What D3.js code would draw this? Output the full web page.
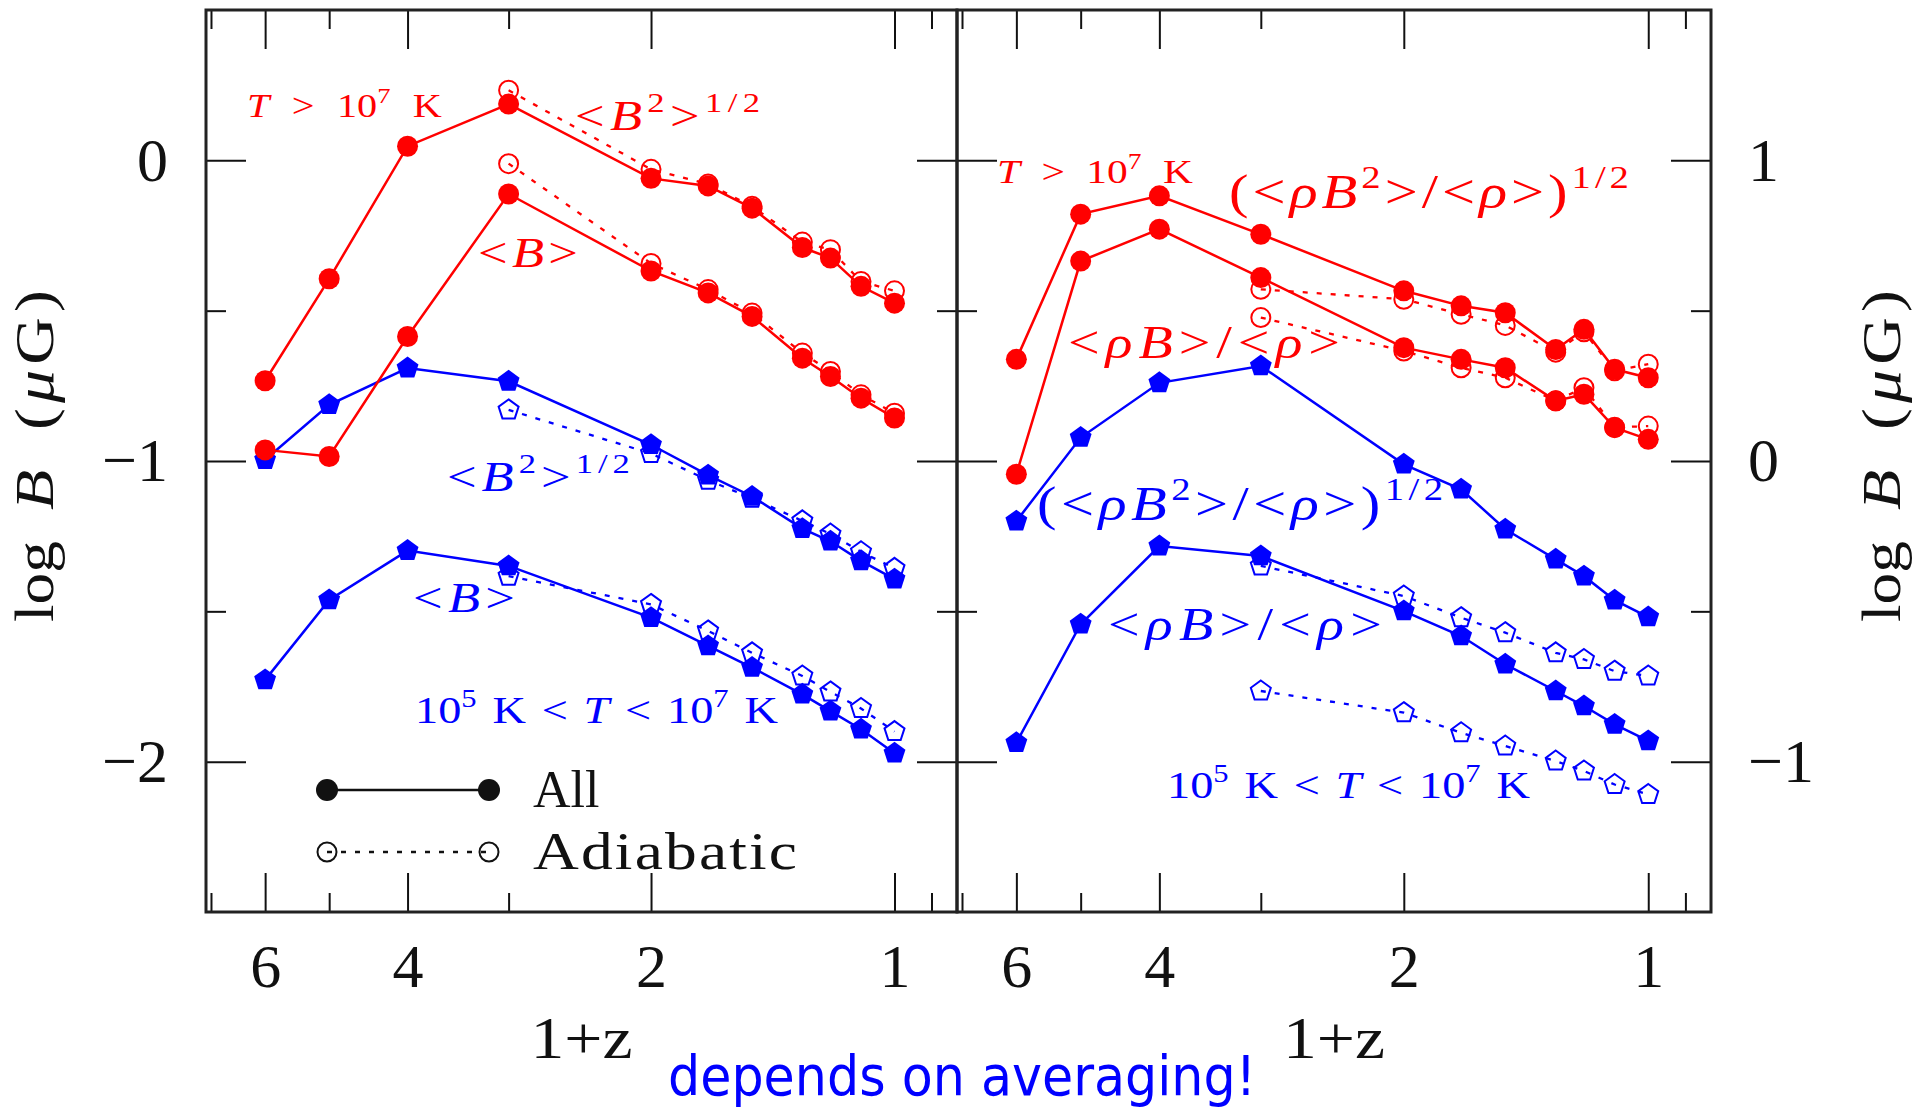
<!DOCTYPE html>
<html>
<head>
<meta charset="utf-8">
<title>log B against 1+z</title>
<script src="https://cdn.jsdelivr.net/npm/d3@7"></script>
<style>
  body { margin: 0; background: white; }
  svg { display: block; font-family: "Liberation Serif", "DejaVu Serif", serif; }
</style>
</head>
<body>
<svg id="chart" width="1920" height="1109"></svg>
<script>
// 1+z of every output; the adiabatic runs only start at 1+z = 3
const onePlusZ    = [6, 5, 4, 3, 2, 1.7, 1.5, 1.3, 1.2, 1.1, 1.0];
const onePlusZAdi = [3, 2, 1.7, 1.5, 1.3, 1.2, 1.1, 1.0];

// left panel: plain volume averages (log B in muG)
const hotB2All  = [-0.733, -0.394, 0.047, 0.187, -0.060, -0.085, -0.159, -0.290, -0.325, -0.419, -0.475];
const hotB2Adi  = [0.233, -0.030, -0.079, -0.153, -0.272, -0.297, -0.403, -0.434];
const hotBAll   = [-0.963, -0.985, -0.586, -0.112, -0.368, -0.441, -0.519, -0.658, -0.719, -0.791, -0.857];
const hotBAdi   = [-0.011, -0.343, -0.430, -0.508, -0.641, -0.702, -0.780, -0.841];
const warmB2All = [-0.996, -0.813, -0.691, -0.735, -0.946, -1.047, -1.118, -1.225, -1.267, -1.332, -1.393];
const warmB2Adi = [-0.830, -0.975, -1.064, -1.124, -1.199, -1.243, -1.302, -1.357];
const warmBAll  = [-1.728, -1.462, -1.298, -1.349, -1.521, -1.615, -1.687, -1.776, -1.832, -1.892, -1.972];
const warmBAdi  = [-1.383, -1.477, -1.565, -1.638, -1.715, -1.768, -1.823, -1.900];

// right panel: density weighted averages
const hotRB2All  = [0.338, 0.821, 0.882, 0.754, 0.566, 0.516, 0.493, 0.371, 0.438, 0.305, 0.277];
const hotRB2Adi  = [0.571, 0.538, 0.488, 0.451, 0.362, 0.430, 0.300, 0.322];
const hotRBAll   = [-0.044, 0.665, 0.771, 0.610, 0.377, 0.338, 0.310, 0.200, 0.222, 0.111, 0.072];
const hotRBAdi   = [0.477, 0.366, 0.310, 0.277, 0.200, 0.244, 0.112, 0.116];
const warmRB2All = [-0.200, 0.078, 0.260, 0.316, -0.011, -0.094, -0.227, -0.327, -0.383, -0.463, -0.519];
const warmRB2Adi = [-0.349, -0.449, -0.521, -0.571, -0.638, -0.660, -0.699, -0.715];
const warmRBAll  = [-0.937, -0.543, -0.283, -0.316, -0.499, -0.582, -0.676, -0.765, -0.815, -0.876, -0.931];
const warmRBAdi  = [-0.765, -0.837, -0.904, -0.948, -0.998, -1.031, -1.076, -1.109];

// tick values
const xMajor = [6, 4, 2, 1];
const xMinor = [7, 5, 3, 0.9];
const yMajorL = [-2, -1, 0], yMinorL = [-1.5, -0.5];
const yMajorR = [-1, 0, 1],  yMinorR = [-0.5, 0.5];

const legendNames = ["All", "Adiabatic"];

const RED = "#ff0000", BLUE = "#0000ff";
const svg = d3.select("#chart");
svg.append("rect").attr("width", 1920).attr("height", 1109).attr("fill", "white");

const yTop = 10, yBottom = 912;
const xDom = [7.1, 0.837];

// text with italic / superscript runs. The plot used a wide TeX-like face,
// so glyphs get widened a bit and the rest of the gap goes into the spaces.
const R = t => ({t}), I = t => ({t, i: true}), S = t => ({t, s: true});
function mathLabel(parent, parts, x, y, fs, color, width, anchor) {
  const t = parent.append("text").attr("x", x).attr("y", y)
    .attr("font-size", fs).attr("fill", color).style("white-space", "pre");
  if (anchor) t.attr("text-anchor", anchor);
  let up = false;
  parts.forEach(p => {
    const ts = t.append("tspan").text(p.t);
    if (p.i) ts.attr("font-style", "italic");
    if (p.s) ts.attr("font-size", 0.66 * fs);
    if (p.s && !up) { ts.attr("dy", -0.42 * fs); up = true; }
    else if (!p.s && up) { ts.attr("dy", 0.42 * fs); up = false; }
  });
  if (!width) return t;
  const str = parts.map(p => p.t).join("");
  const w = t.node().getComputedTextLength();
  if (width <= w) return t;
  const sx = Math.min(width / w, 1.22);
  const rest = (width - w * sx) / sx;
  const nSpace = (str.match(/ /g) || []).length;
  if (rest > 0.5) {
    if (nSpace) t.attr("word-spacing", rest / nSpace);
    else if (str.length > 1) t.attr("letter-spacing", rest / (str.length - 1));
  }
  t.attr("transform", `translate(${x},0) scale(${sx},1) translate(${-x},0)`);
  return t;
}

const pentagon = r => d3.line().curve(d3.curveLinearClosed)(
  d3.range(5).map(k => {
    const a = -Math.PI / 2 + k * 2 * Math.PI / 5;
    return [r * Math.cos(a), r * Math.sin(a)];
  }));

const panels = [
  {
    x0: 206, x1: 957, yDom: [-2.5, 0.5], yMajor: yMajorL, yMinor: yMinorL, side: "left",
    series: [
      {all: warmB2All, adi: warmB2Adi, color: BLUE, sym: "pent"},
      {all: warmBAll,  adi: warmBAdi,  color: BLUE, sym: "pent"},
      {all: hotB2All,  adi: hotB2Adi,  color: RED,  sym: "circ"},
      {all: hotBAll,   adi: hotBAdi,   color: RED,  sym: "circ"}
    ],
    labels: [
      {parts: [I("T"), R(" > 10"), S("7"), R(" K")], x: 247, y: 117, fs: 33, w: 195, c: RED},
      {parts: [R("<"), I("B"), S("2"), R(">"), S("1/2")], x: 575, y: 130, fs: 43, w: 185, c: RED},
      {parts: [R("<"), I("B"), R(">")], x: 478, y: 267, fs: 43, w: 100, c: RED},
      {parts: [R("<"), I("B"), S("2"), R(">"), S("1/2")], x: 447, y: 491, fs: 43, w: 183, c: BLUE},
      {parts: [R("<"), I("B"), R(">")], x: 413, y: 612, fs: 43, w: 102, c: BLUE},
      {parts: [R("10"), S("5"), R(" K < "), I("T"), R(" < 10"), S("7"), R(" K")], x: 415, y: 723, fs: 38, w: 363, c: BLUE}
    ]
  },
  {
    x0: 957, x1: 1711, yDom: [-1.5, 1.5], yMajor: yMajorR, yMinor: yMinorR, side: "right",
    series: [
      {all: warmRB2All, adi: warmRB2Adi, color: BLUE, sym: "pent"},
      {all: warmRBAll,  adi: warmRBAdi,  color: BLUE, sym: "pent"},
      {all: hotRB2All,  adi: hotRB2Adi,  color: RED,  sym: "circ"},
      {all: hotRBAll,   adi: hotRBAdi,   color: RED,  sym: "circ"}
    ],
    labels: [
      {parts: [I("T"), R(" > 10"), S("7"), R(" K")], x: 997, y: 183, fs: 34, w: 196, c: RED},
      {parts: [R("(<"), I("ρB"), S("2"), R(">/<"), I("ρ"), R(">)"), S("1/2")], x: 1229, y: 208, fs: 48, w: 400, c: RED},
      {parts: [R("<"), I("ρB"), R(">/<"), I("ρ"), R(">")], x: 1068, y: 358, fs: 46, w: 272, c: RED},
      {parts: [R("(<"), I("ρB"), S("2"), R(">/<"), I("ρ"), R(">)"), S("1/2")], x: 1037, y: 520, fs: 48, w: 406, c: BLUE},
      {parts: [R("<"), I("ρB"), R(">/<"), I("ρ"), R(">")], x: 1108, y: 640, fs: 46, w: 274, c: BLUE},
      {parts: [R("10"), S("5"), R(" K < "), I("T"), R(" < 10"), S("7"), R(" K")], x: 1167, y: 798, fs: 38, w: 363, c: BLUE}
    ]
  }
];

function styleAxis(sel) {
  sel.select(".domain").remove();
  sel.selectAll(".tick line").attr("stroke", "#111").attr("stroke-width", 2);
  sel.selectAll(".tick text").attr("font-size", 62).attr("fill", "#111")
    .attr("font-family", "Liberation Serif, DejaVu Serif, serif");
}

panels.forEach(p => {
  const x = d3.scaleLog().domain(xDom).range([p.x0, p.x1]);
  const y = d3.scaleLinear().domain(p.yDom).range([yBottom, yTop]);
  const g = svg.append("g");

  // ticks on all four sides, pointing inwards
  g.append("g").attr("transform", `translate(0,${yBottom})`)
    .call(d3.axisBottom(x).tickValues(xMajor).tickSize(-39).tickPadding(31).tickFormat(d3.format("d"))).call(styleAxis);
  g.append("g").attr("transform", `translate(0,${yBottom})`)
    .call(d3.axisBottom(x).tickValues(xMinor).tickSize(-19).tickFormat("")).call(styleAxis);
  g.append("g").attr("transform", `translate(0,${yTop})`)
    .call(d3.axisTop(x).tickValues(xMajor).tickSize(-39).tickFormat("")).call(styleAxis);
  g.append("g").attr("transform", `translate(0,${yTop})`)
    .call(d3.axisTop(x).tickValues(xMinor).tickSize(-19).tickFormat("")).call(styleAxis);

  const leftFmt = p.side === "left" ? d3.format("d") : "";
  const rightFmt = p.side === "right" ? d3.format("d") : "";
  g.append("g").attr("transform", `translate(${p.x0},0)`)
    .call(d3.axisLeft(y).tickValues(p.yMajor).tickSize(-40).tickPadding(38).tickFormat(leftFmt)).call(styleAxis);
  g.append("g").attr("transform", `translate(${p.x0},0)`)
    .call(d3.axisLeft(y).tickValues(p.yMinor).tickSize(-20).tickFormat("")).call(styleAxis);
  g.append("g").attr("transform", `translate(${p.x1},0)`)
    .call(d3.axisRight(y).tickValues(p.yMajor).tickSize(-40).tickPadding(37).tickFormat(rightFmt)).call(styleAxis);
  g.append("g").attr("transform", `translate(${p.x1},0)`)
    .call(d3.axisRight(y).tickValues(p.yMinor).tickSize(-20).tickFormat("")).call(styleAxis);

  g.append("rect").attr("x", p.x0).attr("y", yTop).attr("width", p.x1 - p.x0).attr("height", yBottom - yTop)
    .attr("fill", "none").attr("stroke", "#222").attr("stroke-width", 3);

  const line = d3.line().x(d => x(d[0])).y(d => y(d[1]));

  p.series.forEach(s => {
    const allPts = d3.zip(onePlusZ, s.all);
    const adiPts = d3.zip(onePlusZAdi, s.adi);

    g.append("path").attr("d", line(adiPts)).attr("fill", "none")
      .attr("stroke", s.color).attr("stroke-width", 2.3).attr("stroke-dasharray", "5,9");
    g.append("path").attr("d", line(allPts)).attr("fill", "none")
      .attr("stroke", s.color).attr("stroke-width", 2.5);

    if (s.sym === "circ") {
      g.selectAll(null).data(adiPts).join("circle")
        .attr("cx", d => x(d[0])).attr("cy", d => y(d[1])).attr("r", 9.5)
        .attr("fill", "none").attr("stroke", s.color).attr("stroke-width", 2);
      g.selectAll(null).data(allPts).join("circle")
        .attr("cx", d => x(d[0])).attr("cy", d => y(d[1])).attr("r", 10.5)
        .attr("fill", s.color);
    } else {
      g.selectAll(null).data(adiPts).join("path")
        .attr("transform", d => `translate(${x(d[0])},${y(d[1])})`).attr("d", pentagon(10.5))
        .attr("fill", "none").attr("stroke", s.color).attr("stroke-width", 2);
      g.selectAll(null).data(allPts).join("path")
        .attr("transform", d => `translate(${x(d[0])},${y(d[1])})`).attr("d", pentagon(11.5))
        .attr("fill", s.color);
    }
  });

  p.labels.forEach(l => mathLabel(g, l.parts, l.x, l.y, l.fs, l.c, l.w));

  // x axis title
  svg.append("text").attr("x", (p.x0 + p.x1) / 2 - 51).attr("y", 1058)
    .attr("font-size", 60).attr("fill", "#111")
    .attr("textLength", 102).attr("lengthAdjust", "spacingAndGlyphs").text("1+z");
});

// y axis titles, rotated, on both sides
[53, 1900].forEach(bx => {
  const g = svg.append("g").attr("transform", `translate(${bx},0) rotate(-90)`);
  mathLabel(g, [R("log")], -622, 0, 54, "#111", 81);
  mathLabel(g, [I("B")], -510, 0, 54, "#111", 49);
  mathLabel(g, [R("("), I("μ"), R("G)")], -430, 0, 54, "#111", 140);
});

// legend (left panel, lower left)
const legY = [790, 852];
legendNames.forEach((name, i) => {
  const lg = svg.append("g");
  lg.append("line").attr("x1", 327).attr("x2", 489).attr("y1", legY[i]).attr("y2", legY[i])
    .attr("stroke", "#111").attr("stroke-width", i ? 2.3 : 2.5).attr("stroke-dasharray", i ? "5,9" : null);
  [327, 489].forEach(cx => {
    lg.append("circle").attr("cx", cx).attr("cy", legY[i]).attr("r", i ? 9.5 : 11)
      .attr("fill", i ? "none" : "#111").attr("stroke", "#111").attr("stroke-width", i ? 2 : 0);
  });
  mathLabel(lg, [R(name)], 533, legY[i] + 17, 52, "#111", i ? 264 : 65);
});

// footnote
svg.append("text").attr("x", 668).attr("y", 1095)
  .attr("font-family", "DejaVu Sans Condensed, DejaVu Sans, sans-serif")
  .attr("font-size", 55).attr("fill", BLUE)
  .attr("textLength", 588).attr("lengthAdjust", "spacingAndGlyphs")
  .text("depends on averaging!");
</script>
</body>
</html>
